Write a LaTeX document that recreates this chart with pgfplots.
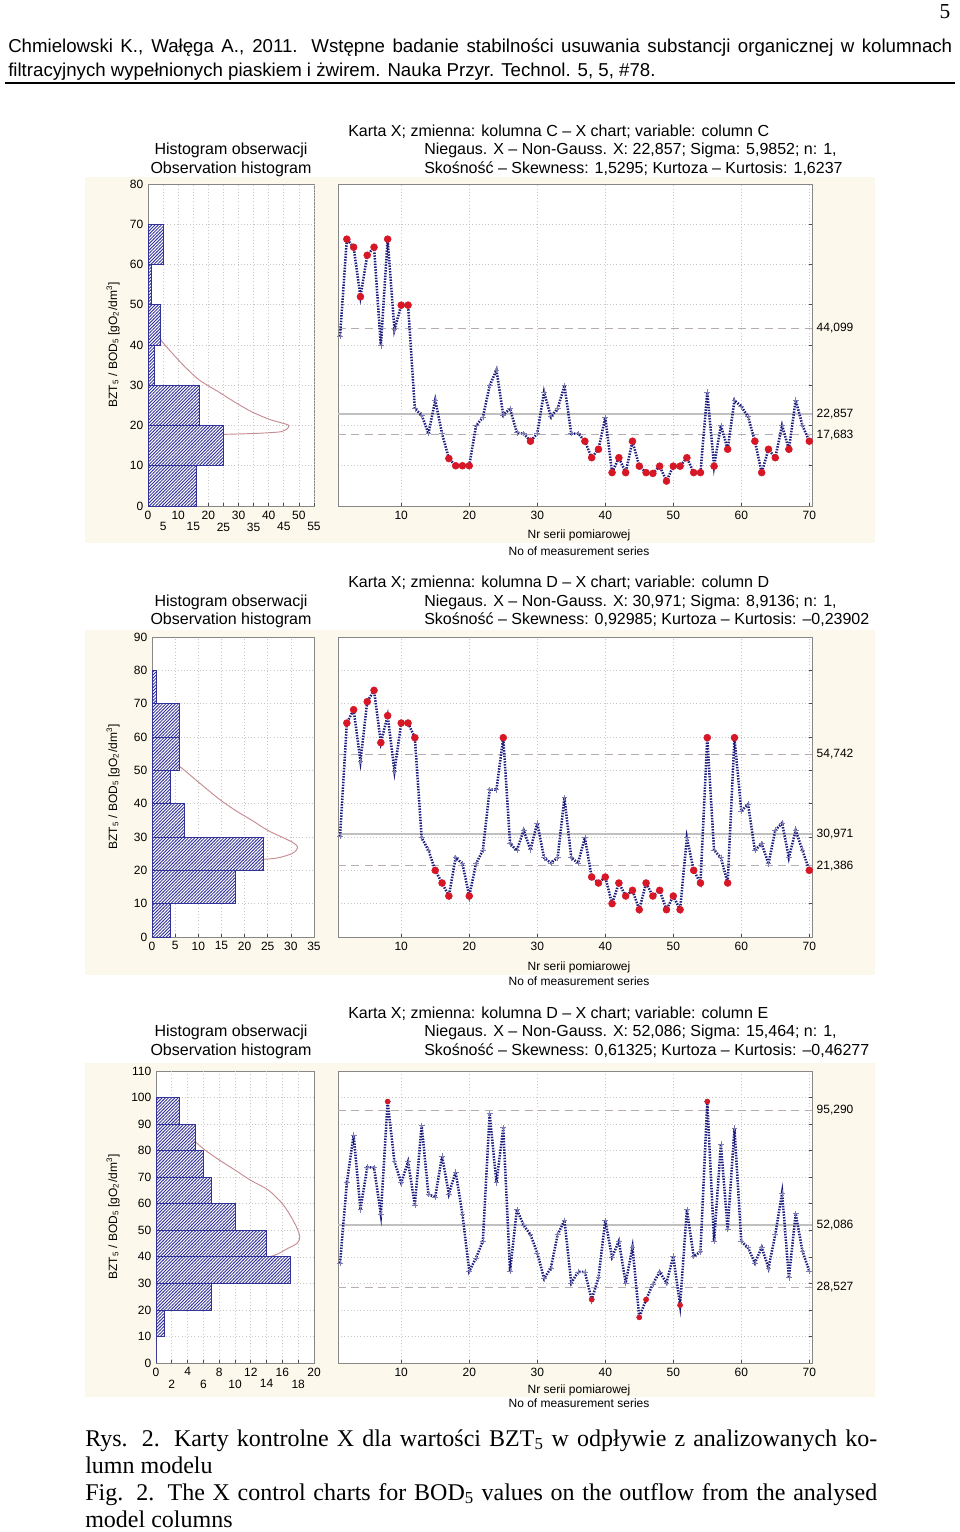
\documentclass[border=0pt]{standalone}
\usepackage{fontspec}
\setmainfont{Liberation Sans}
\newfontfamily\seriffont{Liberation Serif}
\usepackage{pgfplots}
\usepackage{pgfplotstable}
\pgfplotsset{compat=1.18}
\usetikzlibrary{patterns}

\pgfdeclarepatternformonly{hatchdense}{\pgfqpoint{-1pt}{-1pt}}{\pgfqpoint{3.4pt}{3.4pt}}{\pgfqpoint{2.4pt}{2.4pt}}{
  \pgfsetlinewidth{0.6pt}
  \pgfpathmoveto{\pgfqpoint{-0.2pt}{-0.2pt}}
  \pgfpathlineto{\pgfqpoint{2.6pt}{2.6pt}}
  \pgfusepath{stroke}}

\definecolor{cream}{RGB}{252,249,236}
\definecolor{navyline}{RGB}{28,28,125}
\definecolor{plusc}{RGB}{125,125,180}
\definecolor{redpt}{RGB}{215,22,38}
\definecolor{curvec}{RGB}{198,140,145}
\definecolor{limc}{RGB}{182,172,178}
\definecolor{ctrc}{RGB}{192,192,192}
\definecolor{gridc}{RGB}{200,200,200}
\definecolor{hatchc}{RGB}{50,50,155}
\definecolor{framec}{RGB}{135,135,135}

\newcommand\hfont{\fontsize{14}{16}\selectfont}
\newcommand\tfont{\fontsize{12}{14}\selectfont}
\newcommand\lfont{\fontsize{9}{11}\selectfont}
\newcommand\cfont{\seriffont\fontsize{18}{20}\selectfont}

\pgfplotstableread{
i v
1 42.2
2 66.3
3 64.3
4 52.0
5 62.3
6 64.3
7 39.8
8 66.3
9 43.8
10 49.9
11 49.9
12 24.2
13 22.6
14 18.0
15 26.3
16 18.0
17 11.8
18 10.0
19 10.0
20 10.0
21 20.0
22 22.0
23 29.9
24 33.8
25 22.6
26 24.2
27 18.2
28 18.0
29 16.1
30 18.0
31 28.3
32 22.2
33 24.2
34 29.9
35 18.0
36 18.0
37 16.1
38 12.0
39 14.1
40 22.0
41 8.3
42 12.0
43 8.3
44 16.1
45 9.9
46 8.3
47 8.1
48 9.9
49 6.2
50 9.9
51 9.9
52 12.0
53 8.3
54 8.3
55 28.3
56 9.9
57 20.0
58 14.1
59 26.3
60 24.7
61 22.2
62 16.1
63 8.3
64 14.1
65 12.0
66 20.0
67 14.1
68 26.3
69 20.0
70 16.1
}\dataC

\pgfplotstableread{
i v
1 30.2
2 64.2
3 68.2
4 52.8
5 70.6
6 74.0
7 58.3
8 66.4
9 49.8
10 64.2
11 64.2
12 59.8
13 29.8
14 26.0
15 20.0
16 16.2
17 12.3
18 23.8
19 22.0
20 12.3
21 22.0
22 26.0
23 44.2
24 44.2
25 59.8
26 28.0
27 26.0
28 32.0
29 26.2
30 34.2
31 23.8
32 22.2
33 23.8
34 41.8
35 23.8
36 22.2
37 29.8
38 18.0
39 16.2
40 18.0
41 10.0
42 16.2
43 12.3
44 14.0
45 8.2
46 16.2
47 12.3
48 14.0
49 8.2
50 12.3
51 8.2
52 29.8
53 20.0
54 16.2
55 59.8
56 26.0
57 23.8
58 16.2
59 59.8
60 37.8
61 39.8
62 26.0
63 28.0
64 22.0
65 32.0
66 34.2
67 23.8
68 32.0
69 26.0
70 20.0
}\dataD

\pgfplotstableread{
i v
1 37.7
2 67.9
3 85.9
4 57.8
5 73.8
6 73.6
7 56.0
8 98.5
9 75.8
10 67.9
11 75.8
12 59.5
13 89.5
14 63.5
15 62.5
16 78.0
17 63.7
18 72.0
19 56.0
20 34.6
21 39.6
22 45.9
23 93.9
24 67.9
25 88.6
26 34.6
27 57.8
28 51.9
29 48.4
30 41.5
31 31.8
32 35.8
33 48.4
34 53.7
35 30.2
36 34.3
37 34.3
38 23.9
39 32.1
40 53.7
41 39.9
42 45.9
43 30.2
44 43.6
45 17.2
46 23.9
47 29.8
48 34.3
49 30.2
50 40.2
51 21.8
52 57.8
53 40.2
54 41.9
55 98.5
56 45.9
57 82.4
58 50.3
59 88.4
60 45.9
61 43.4
62 37.7
63 43.6
64 35.8
65 48.4
66 64.1
67 32.1
68 56.2
69 42.1
70 34.6
}\dataE

\pgfplotsset{
  base/.style={
    scale only axis,
    axis background/.style={fill=white},
    axis line style={draw=framec, line width=0.6pt},
    tick style={draw=black!70, line width=0.5pt},
    tick align=inside,
    major tick length=2.5pt,
    tick label style={font=\lfont},
    /pgf/number format/assume math mode=true,
    grid=major,
    major grid style={gridc, dotted, line width=0.5pt},
  },
  hist/.style={base, xmin=0, ymin=0, xtick pos=left, ytick pos=left},
  ctrl/.style={base, xmin=0.7, xmax=70.4, ymin=0, xtick={10,20,...,70}, xtick pos=left,
    ytick pos=right, yticklabels={},
    extra y tick style={grid=none, tick style={draw=none}}},
  series/.style={navyline, line width=1.9pt, dash pattern=on 1.1pt off 1.0pt,
    mark=+, mark size=2.2pt, mark options={plusc, solid, line width=0.5pt}},
  redmk/.style={only marks, mark=*, mark size=#1, mark options={draw=redpt, fill=redpt, solid}},
  bars/.style={xbar interval, draw=hatchc, line width=0.6pt, fill=white, fill opacity=0.8,
    postaction={fill opacity=1, pattern=hatchdense, pattern color=hatchc}},
  curve/.style={curvec, line width=0.7pt, smooth, tension=0.5},
  uclline/.style={limc, line width=0.8pt, dash pattern=on 6pt off 4pt},
  cline/.style={ctrc, line width=1.3pt},
}

\begin{document}
\begin{tikzpicture}[x=0.75pt,y=-0.75pt]
\path[use as bounding box, fill=white] (0,0) rectangle (960,1532);

% header
\node[font=\seriffont\fontsize{16}{18}\selectfont] at (945,12) {5};
\node[anchor=base west, inner sep=0, font=\hfont] at (8,52) {\makebox[708pt][s]{Chmielowski K., Wałęga A., 2011. Wstępne badanie stabilności usuwania substancji organicznej w kolumnach}};
\node[anchor=base west, inner sep=0, font=\hfont] at (8,76) {filtracyjnych wypełnionych piaskiem i żwirem. Nauka Przyr. Technol. 5, 5, \#78.};
\draw[line width=1.5pt] (5,83) -- (955,83);

% cream panels
\fill[cream] (85,177) rectangle (875,543);
\fill[cream] (85,630) rectangle (875,975);
\fill[cream] (85,1063) rectangle (875,1397);

\coordinate (hC) at (148,506);
\coordinate (cC) at (338,506);
\coordinate (hD) at (152,937);
\coordinate (cD) at (338,937);
\coordinate (hE) at (156,1363);
\coordinate (cE) at (338,1363);

% ---------- Panel C ----------
\node[anchor=base, font=\tfont] at (231,154) {Histogram obserwacji};
\node[anchor=base, font=\tfont] at (231,173) {Observation histogram};
\node[anchor=base west, font=\tfont, inner sep=0] at (348,136) {Karta X; zmienna: kolumna C – X chart; variable: column C};
\node[anchor=base west, font=\tfont, inner sep=0] at (424,154) {Niegaus. X – Non-Gauss. X: 22,857; Sigma: 5,9852; n: 1,};
\node[anchor=base west, font=\tfont, inner sep=0] at (424,173) {Skośność – Skewness: 1,5295; Kurtoza – Kurtosis: 1,6237};
\node[rotate=90, font=\lfont] at (113,345) {BZT\textsubscript{5} / BOD\textsubscript{5} [gO\textsubscript{2}/dm\textsuperscript{3}]};

\begin{axis}[hist, at={(hC)}, anchor=south west, width=124.5pt, height=241.5pt,
  xmax=55, ymax=80, ytick={0,10,...,80}, xtick={0,10,...,50},
  extra x ticks={5,15,...,55}, extra x tick style={grid=major, xticklabel style={yshift=-9pt}}]
\addplot[curve] coordinates {(0.3,52) (1,47.5) (2,44.5) (3.9,41.6) (8,38) (12.2,34.6) (17,31.3) (23.3,28.4) (29,25.7) (34.4,23.4) (40,21.6) (44,20.7) (46.5,20.1) (46.3,19.3) (44.3,18.5) (40,18.2) (34.4,18.0) (25,17.8) (15,17.7) (5,17.65) (0,17.6)};
\addplot[bars] coordinates {(16,0) (25,10) (17,20) (2,30) (4,40) (1,50) (5,60) (0,70)};
\end{axis}

\begin{axis}[ctrl, at={(cC)}, anchor=south west, width=355.5pt, height=241.5pt,
  ymax=80, ytick={0,10,...,80},
  extra y ticks={17.683,22.857,44.099}, extra y tick labels={{17,683},{22,857},{44,099}}]
\addplot[uclline] coordinates {(0.7,44.099) (70.4,44.099)};
\addplot[cline] coordinates {(0.7,22.857) (70.4,22.857)};
\addplot[uclline] coordinates {(0.7,17.683) (70.4,17.683)};
\addplot[series] table[x=i,y=v] {\dataC};
\addplot[redmk=2.6pt, restrict y to domain=44.099:200] table[x=i,y=v] {\dataC};
\addplot[redmk=2.6pt, restrict y to domain=-10:17.683] table[x=i,y=v] {\dataC};
\end{axis}
\node[font=\lfont] at (579,535) {Nr serii pomiarowej};
\node[font=\lfont] at (579,551) {No of measurement series};

% ---------- Panel D ----------
\node[anchor=base, font=\tfont] at (231,606) {Histogram obserwacji};
\node[anchor=base, font=\tfont] at (231,624) {Observation histogram};
\node[anchor=base west, font=\tfont, inner sep=0] at (348,587) {Karta X; zmienna: kolumna D – X chart; variable: column D};
\node[anchor=base west, font=\tfont, inner sep=0] at (424,606) {Niegaus. X – Non-Gauss. X: 30,971; Sigma: 8,9136; n: 1,};
\node[anchor=base west, font=\tfont, inner sep=0] at (424,624) {Skośność – Skewness: 0,92985; Kurtoza – Kurtosis: –0,23902};
\node[rotate=90, font=\lfont] at (113,787) {BZT\textsubscript{5} / BOD\textsubscript{5} [gO\textsubscript{2}/dm\textsuperscript{3}]};

\begin{axis}[hist, at={(hD)}, anchor=south west, width=121.5pt, height=225pt,
  xmax=35, ymax=90, ytick={0,10,...,90}, xtick={0,5,...,35}]
\addplot[curve] coordinates {(0.3,57) (2,54) (4,52.3) (6.1,51) (10,46.5) (14.4,41.5) (18,38) (21.6,35) (25,32) (28.8,29.5) (30.6,28.2) (31.4,27.2) (31.2,26.1) (30.2,25) (27.4,23.8) (24.1,23.3) (15,22.6) (5,22.1) (0,22)};
\addplot[bars] coordinates {(4,0) (18,10) (24,20) (7,30) (4,40) (6,50) (6,60) (1,70) (0,80)};
\end{axis}

\begin{axis}[ctrl, at={(cD)}, anchor=south west, width=355.5pt, height=225pt,
  ymax=90, ytick={0,10,...,90},
  extra y ticks={21.386,30.971,54.742}, extra y tick labels={{21,386},{30,971},{54,742}}]
\addplot[uclline] coordinates {(0.7,54.742) (70.4,54.742)};
\addplot[cline] coordinates {(0.7,30.971) (70.4,30.971)};
\addplot[uclline] coordinates {(0.7,21.386) (70.4,21.386)};
\addplot[series] table[x=i,y=v] {\dataD};
\addplot[redmk=2.6pt, restrict y to domain=54.742:200] table[x=i,y=v] {\dataD};
\addplot[redmk=2.6pt, restrict y to domain=-10:21.386] table[x=i,y=v] {\dataD};
\end{axis}
\node[font=\lfont] at (579,967) {Nr serii pomiarowej};
\node[font=\lfont] at (579,981) {No of measurement series};

% ---------- Panel E ----------
\node[anchor=base, font=\tfont] at (231,1036) {Histogram obserwacji};
\node[anchor=base, font=\tfont] at (231,1055) {Observation histogram};
\node[anchor=base west, font=\tfont, inner sep=0] at (348,1018) {Karta X; zmienna: kolumna D – X chart; variable: column E};
\node[anchor=base west, font=\tfont, inner sep=0] at (424,1036) {Niegaus. X – Non-Gauss. X: 52,086; Sigma: 15,464; n: 1,};
\node[anchor=base west, font=\tfont, inner sep=0] at (424,1055) {Skośność – Skewness: 0,61325; Kurtoza – Kurtosis: –0,46277};
\node[rotate=90, font=\lfont] at (113,1217) {BZT\textsubscript{5} / BOD\textsubscript{5} [gO\textsubscript{2}/dm\textsuperscript{3}]};

\begin{axis}[hist, at={(hE)}, anchor=south west, width=118.5pt, height=219pt,
  xmax=20, ymax=110, ytick={0,10,...,110}, xtick={0,4,...,20},
  extra x ticks={2,6,...,18}, extra x tick style={grid=major, xticklabel style={yshift=-9pt}}]
\addplot[curve] coordinates {(0.3,99) (2,91.5) (4,86) (6.05,80.6) (8,76.5) (10,72.7) (12,68.8) (14.2,65.2) (16,60) (17.1,55.1) (17.9,50.5) (18.2,47.5) (17.9,45.2) (16.7,43.2) (14.9,40.5) (10,36.2) (5,32) (0,29)};
\addplot[bars] coordinates {(0,0) (1,10) (7,20) (17,30) (14,40) (10,50) (7,60) (6,70) (5,80) (3,90) (0,100)};
\end{axis}

\begin{axis}[ctrl, at={(cE)}, anchor=south west, width=355.5pt, height=219pt,
  ymax=110, ytick={0,10,...,110},
  extra y ticks={28.527,52.086,95.290}, extra y tick labels={{28,527},{52,086},{95,290}}]
\addplot[uclline] coordinates {(0.7,95.290) (70.4,95.290)};
\addplot[cline] coordinates {(0.7,52.086) (70.4,52.086)};
\addplot[uclline] coordinates {(0.7,28.527) (70.4,28.527)};
\addplot[series] table[x=i,y=v] {\dataE};
\addplot[redmk=1.9pt, restrict y to domain=95.29:200] table[x=i,y=v] {\dataE};
\addplot[redmk=1.9pt, restrict y to domain=-10:28.527] table[x=i,y=v] {\dataE};
\end{axis}
\node[font=\lfont] at (579,1390) {Nr serii pomiarowej};
\node[font=\lfont] at (579,1403) {No of measurement series};

% caption
\node[anchor=base west, inner sep=0, font=\cfont] at (85,1446) {\makebox[594pt][s]{Rys. 2. Karty kontrolne X dla wartości BZT\textsubscript{5} w odpływie z analizowanych ko-}};
\node[anchor=base west, inner sep=0, font=\cfont] at (85,1473) {lumn modelu};
\node[anchor=base west, inner sep=0, font=\cfont] at (85,1500) {\makebox[594pt][s]{Fig. 2. The X control charts for BOD\textsubscript{5} values on the outflow from the analysed}};
\node[anchor=base west, inner sep=0, font=\cfont] at (85,1527) {model columns};
\end{tikzpicture}
\end{document}
